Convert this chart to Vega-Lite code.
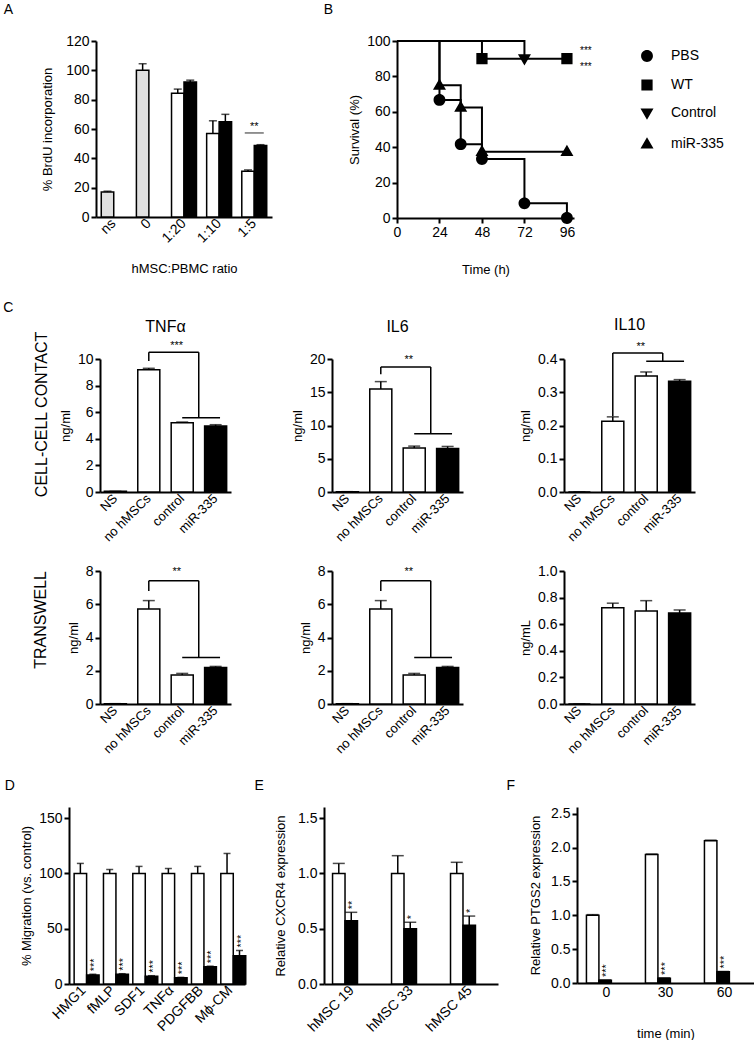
{
"$schema":"https://vega.github.io/schema/vega-lite/v6.json",
"padding":{"left":3,"top":3,"right":0,"bottom":0},
"background":"white",
"config":{
 "view":{"stroke":null},
 "font":"Liberation Sans",
 "axis":{"domainColor":"black","domainWidth":2,"tickColor":"black","tickWidth":2,"tickSize":5,"labelColor":"black","labelFontSize":14,"titleFontSize":13,"titleFontWeight":"normal","titleColor":"black","grid":false,"labelPadding":2,"labelFlush":false,"labelOverlap":false},
 "title":{"fontSize":14,"fontWeight":"normal","anchor":"start","frame":"bounds","color":"black"}
},
"spacing":25,
"resolve":{"scale":{"shape":"independent"},"legend":{"shape":"independent"}},
"vconcat":[
 {"bounds":"flush","spacing":0,
  "resolve":{"scale":{"shape":"independent"},"legend":{"shape":"independent"}},
  "hconcat":[
  {"width":27,"height":10,"data":{"values":[]},"mark":"rect","encoding":{}},
  {"bounds":"flush","spacing":125,
   "resolve":{"scale":{"shape":"independent"},"legend":{"shape":"independent"}},
   "hconcat":[
   {"title":{"text":"A","dx":-38,"offset":17},
    "width":176,"height":176,
    "data":{"values":[
     {"ratio":"ns","slot":"a","group":"none","value":17,"upper":17.6},
     {"ratio":"0","slot":"a","group":"none","value":100,"upper":104.5},
     {"ratio":"1:20","slot":"a","group":"control","value":84.4,"upper":87.2},
     {"ratio":"1:20","slot":"b","group":"miR-335","value":92,"upper":93.3},
     {"ratio":"1:10","slot":"a","group":"control","value":57,"upper":65.6},
     {"ratio":"1:10","slot":"b","group":"miR-335","value":65,"upper":70},
     {"ratio":"1:5","slot":"a","group":"control","value":31.2,"upper":32.1},
     {"ratio":"1:5","slot":"b","group":"miR-335","value":48.8,"upper":49.3}
    ]},
    "layer":[
     {"mark":{"type":"bar","stroke":"black","strokeWidth":1.5},
      "encoding":{
       "x":{"field":"ratio","type":"nominal","scale":{"domain":["ns","0","1:20","1:10","1:5"],"paddingInner":0.29,"paddingOuter":0.15},"axis":{"title":"hMSC:PBMC ratio","labelAngle":-45,"labelAlign":"right","labelBaseline":"middle","ticks":false,"labelPadding":4,"titlePadding":17,"labelOverlap":false}},
       "xOffset":{"field":"slot","type":"nominal","scale":{"domain":["a","b"]}},
       "y":{"field":"value","type":"quantitative","scale":{"domain":[0,120]},"axis":{"title":"% BrdU incorporation","values":[0,20,40,60,80,100,120],"tickCount":20,"format":"d","titlePadding":11,"labelOverlap":false}},
       "fill":{"condition":[{"test":"datum.group === 'none'","value":"#e0e0e0"},{"test":"datum.group === 'miR-335'","value":"black"}],"value":"white"}}},
     {"mark":{"type":"rule","color":"black","strokeWidth":1.5},
      "encoding":{"x":{"field":"ratio","type":"nominal"},"xOffset":{"field":"slot","type":"nominal"},"y":{"field":"value","type":"quantitative"},"y2":{"field":"upper"}}},
     {"mark":{"type":"tick","color":"black","thickness":1.5,"size":8},
      "encoding":{"x":{"field":"ratio","type":"nominal"},"xOffset":{"field":"slot","type":"nominal"},"y":{"field":"upper","type":"quantitative"}}},
     {"data":{"values":[{"ratio":"1:5","line":57.3,"label":61.5,"stars":"**"}]},
      "layer":[
       {"mark":{"type":"tick","color":"black","thickness":1.2,"size":19},"encoding":{"x":{"field":"ratio","type":"nominal"},"y":{"field":"line","type":"quantitative"}}},
       {"mark":{"type":"text","color":"black","fontSize":11,"baseline":"middle"},"encoding":{"x":{"field":"ratio","type":"nominal"},"y":{"field":"label","type":"quantitative"},"text":{"field":"stars"}}}
      ]}
    ]},
   {"title":{"text":"B","dx":-25,"offset":17},
    "width":177,"height":177,
    "layer":[
     {"data":{"values":[
       {"group":"PBS","time":0,"survival":100},{"group":"PBS","time":24,"survival":66.7},{"group":"PBS","time":36,"survival":41.7},{"group":"PBS","time":48,"survival":33.3},{"group":"PBS","time":72,"survival":8.3},{"group":"PBS","time":96,"survival":0},
       {"group":"WT","time":0,"survival":100},{"group":"WT","time":48,"survival":90},{"group":"WT","time":96,"survival":90},
       {"group":"Control","time":0,"survival":100},{"group":"Control","time":72,"survival":90},
       {"group":"miR-335","time":0,"survival":100},{"group":"miR-335","time":24,"survival":75},{"group":"miR-335","time":36,"survival":62.5},{"group":"miR-335","time":48,"survival":37.5},{"group":"miR-335","time":96,"survival":37.5}
      ]},
      "layer":[
       {"mark":{"type":"line","interpolate":"step-after","color":"black","strokeWidth":2},
        "encoding":{"x":{"field":"time","type":"quantitative","scale":{"domain":[0,96]},"axis":{"title":"Time (h)","values":[0,24,48,72,96],"tickCount":20,"format":"d","titlePadding":24,"labelOverlap":false}},
         "y":{"field":"survival","type":"quantitative","scale":{"domain":[0,100]},"axis":{"title":"Survival (%)","values":[0,20,40,60,80,100],"tickCount":20,"format":"d","titlePadding":5,"labelOverlap":false}},
         "detail":{"field":"group","type":"nominal"}}},
       {"transform":[{"filter":"datum.time > 0"}],
        "mark":{"type":"point","filled":true,"color":"black","size":140,"opacity":1},
        "encoding":{"x":{"field":"time","type":"quantitative"},"y":{"field":"survival","type":"quantitative"},
         "shape":{"field":"group","type":"nominal","scale":{"domain":["PBS","WT","Control","miR-335"],"range":["M-1,0A1,1,0,1,1,1,0A1,1,0,1,1,-1,0Z M-1.9,0H1.9","M-0.95,-0.95H0.95V0.95H-0.95Z M-1.9,0H1.9","M-1.1,-0.75H1.1L0,1.15Z M-1.9,0H1.9","M0,-1.15L1.1,0.75H-1.1Z M-1.9,0H1.9"]},
          "legend":{"title":null,"orient":"right","offset":58,"padding":8,"labelFontSize":14,"labelColor":"black","symbolSize":140,"symbolFillColor":"black","symbolStrokeColor":"black","symbolStrokeWidth":2,"rowPadding":9,"labelOffset":17,
           "encode":{"symbols":{"update":{"stroke":{"value":"black"},"strokeWidth":{"value":2},"fill":{"value":"black"}}}}}}}}
      ]},
     {"data":{"values":[{"time":96,"survival":94.4,"stars":"***"},{"time":96,"survival":85.3,"stars":"***"}]},
      "mark":{"type":"text","color":"black","fontSize":10,"dx":19,"baseline":"middle"},
      "encoding":{"x":{"field":"time","type":"quantitative"},"y":{"field":"survival","type":"quantitative"},"text":{"field":"stars"}}}
    ]}
  ]}
 ]},
 {"spacing":22,"vconcat":[
  {"title":{"text":"C","dx":-30,"offset":2},"spacing":20,"vconcat":[
   {"title":{"text":"CELL-CELL CONTACT","orient":"left","anchor":"middle","fontSize":16,"offset":9,"dx":16},
    "bounds":"flush","spacing":0,"hconcat":[
    {"width":31,"height":10,"data":{"values":[]},"mark":"rect","encoding":{}},
    {"bounds":"flush","spacing":101,"hconcat":[
     {"title":{"text":"TNFα","anchor":"middle","frame":"group","fontSize":16,"offset":5},
      "width":131,"height":133,
      "layer":[
       {"data":{"values":[
         {"cond":"NS","value":0.05,"upper":0.05},
         {"cond":"no hMSCs","value":9.2,"upper":9.3},
         {"cond":"control","value":5.21,"upper":5.26},
         {"cond":"miR-335","value":4.96,"upper":5.06}]},
        "layer":[
         {"mark":{"type":"bar","stroke":"black","strokeWidth":1.5},
          "encoding":{"x":{"field":"cond","type":"nominal","scale":{"domain":["NS","no hMSCs","control","miR-335"],"paddingInner":0.34,"paddingOuter":0.13},"axis":{"title":null,"labelAngle":-45,"labelAlign":"right","labelBaseline":"middle","ticks":false,"labelFontSize":13,"labelPadding":4,"labelOverlap":false}},
           "y":{"field":"value","type":"quantitative","scale":{"domain":[0,10]},"axis":{"title":"ng/ml","values":[0,2,4,6,8,10],"tickCount":20,"format":"d","titlePadding":5,"labelOverlap":false}},
           "fill":{"condition":{"test":"datum.cond === 'miR-335'","value":"black"},"value":"white"}}},
         {"mark":{"type":"rule","color":"black","strokeWidth":1.5},"encoding":{"x":{"field":"cond","type":"nominal"},"y":{"field":"value","type":"quantitative"},"y2":{"field":"upper"}}},
         {"mark":{"type":"tick","color":"black","thickness":1.5,"size":12},"encoding":{"x":{"field":"cond","type":"nominal"},"y":{"field":"upper","type":"quantitative"}}}
        ]},
       {"data":{"values":[{"left":"no hMSCs","right":"control","lo":"control","hi":"miR-335","ya":9.85,"ytop":10.5,"yb":5.59,"ystar":11.0,"stars":"***"}]},
        "layer":[
         {"mark":{"type":"rule","color":"black","strokeWidth":1.5},"encoding":{"x":{"field":"left","type":"nominal"},"y":{"field":"ya","type":"quantitative"},"y2":{"field":"ytop"}}},
         {"mark":{"type":"rule","color":"black","strokeWidth":1.5},"encoding":{"x":{"field":"left","type":"nominal"},"x2":{"field":"right","bandPosition":1.25},"y":{"field":"ytop","type":"quantitative"}}},
         {"mark":{"type":"rule","color":"black","strokeWidth":1.5},"encoding":{"x":{"field":"right","type":"nominal","bandPosition":1.25},"y":{"field":"yb","type":"quantitative"},"y2":{"field":"ytop"}}},
         {"mark":{"type":"rule","color":"black","strokeWidth":1.5},"encoding":{"x":{"field":"lo","type":"nominal","bandPosition":0.5},"x2":{"field":"hi","bandPosition":0.7},"y":{"field":"yb","type":"quantitative"}}},
         {"mark":{"type":"text","color":"black","fontSize":11,"baseline":"middle"},"encoding":{"x":{"field":"right","type":"nominal","bandPosition":0.25},"y":{"field":"ystar","type":"quantitative"},"text":{"field":"stars"}}}
        ]}
      ]},
     {"title":{"text":"IL6","anchor":"middle","frame":"group","fontSize":16,"offset":17},
      "width":131,"height":133,
      "layer":[
       {"data":{"values":[
         {"cond":"NS","value":0.05,"upper":0.05},
         {"cond":"no hMSCs","value":15.5,"upper":16.6},
         {"cond":"control","value":6.6,"upper":6.9},
         {"cond":"miR-335","value":6.55,"upper":6.85}]},
        "layer":[
         {"mark":{"type":"bar","stroke":"black","strokeWidth":1.5},
          "encoding":{"x":{"field":"cond","type":"nominal","scale":{"domain":["NS","no hMSCs","control","miR-335"],"paddingInner":0.34,"paddingOuter":0.13},"axis":{"title":null,"labelAngle":-45,"labelAlign":"right","labelBaseline":"middle","ticks":false,"labelFontSize":13,"labelPadding":4,"labelOverlap":false}},
           "y":{"field":"value","type":"quantitative","scale":{"domain":[0,20]},"axis":{"title":"ng/ml","values":[0,5,10,15,20],"tickCount":20,"format":"d","titlePadding":5,"labelOverlap":false}},
           "fill":{"condition":{"test":"datum.cond === 'miR-335'","value":"black"},"value":"white"}}},
         {"mark":{"type":"rule","color":"black","strokeWidth":1.5},"encoding":{"x":{"field":"cond","type":"nominal"},"y":{"field":"value","type":"quantitative"},"y2":{"field":"upper"}}},
         {"mark":{"type":"tick","color":"black","thickness":1.5,"size":12},"encoding":{"x":{"field":"cond","type":"nominal"},"y":{"field":"upper","type":"quantitative"}}}
        ]},
       {"data":{"values":[{"left":"no hMSCs","right":"control","lo":"control","hi":"miR-335","ya":17.7,"ytop":18.8,"yb":8.75,"ystar":19.8,"stars":"**"}]},
        "layer":[
         {"mark":{"type":"rule","color":"black","strokeWidth":1.5},"encoding":{"x":{"field":"left","type":"nominal"},"y":{"field":"ya","type":"quantitative"},"y2":{"field":"ytop"}}},
         {"mark":{"type":"rule","color":"black","strokeWidth":1.5},"encoding":{"x":{"field":"left","type":"nominal"},"x2":{"field":"right","bandPosition":1.25},"y":{"field":"ytop","type":"quantitative"}}},
         {"mark":{"type":"rule","color":"black","strokeWidth":1.5},"encoding":{"x":{"field":"right","type":"nominal","bandPosition":1.25},"y":{"field":"yb","type":"quantitative"},"y2":{"field":"ytop"}}},
         {"mark":{"type":"rule","color":"black","strokeWidth":1.5},"encoding":{"x":{"field":"lo","type":"nominal","bandPosition":0.5},"x2":{"field":"hi","bandPosition":0.7},"y":{"field":"yb","type":"quantitative"}}},
         {"mark":{"type":"text","color":"black","fontSize":11,"baseline":"middle"},"encoding":{"x":{"field":"right","type":"nominal","bandPosition":0.25},"y":{"field":"ystar","type":"quantitative"},"text":{"field":"stars"}}}
        ]}
      ]},
     {"title":{"text":"IL10","anchor":"middle","frame":"group","fontSize":16,"offset":8},
      "width":131,"height":133,
      "layer":[
       {"data":{"values":[
         {"cond":"NS","value":0,"upper":0},
         {"cond":"no hMSCs","value":0.213,"upper":0.226},
         {"cond":"control","value":0.349,"upper":0.361},
         {"cond":"miR-335","value":0.333,"upper":0.338}]},
        "layer":[
         {"mark":{"type":"bar","stroke":"black","strokeWidth":1.5},
          "encoding":{"x":{"field":"cond","type":"nominal","scale":{"domain":["NS","no hMSCs","control","miR-335"],"paddingInner":0.34,"paddingOuter":0.13},"axis":{"title":null,"labelAngle":-45,"labelAlign":"right","labelBaseline":"middle","ticks":false,"labelFontSize":13,"labelPadding":4,"labelOverlap":false}},
           "y":{"field":"value","type":"quantitative","scale":{"domain":[0,0.4]},"axis":{"title":"ng/ml","values":[0,0.1,0.2,0.3,0.4],"tickCount":20,"format":".1f","titlePadding":5,"labelOverlap":false}},
           "fill":{"condition":{"test":"datum.cond === 'miR-335'","value":"black"},"value":"white"}}},
         {"mark":{"type":"rule","color":"black","strokeWidth":1.5},"encoding":{"x":{"field":"cond","type":"nominal"},"y":{"field":"value","type":"quantitative"},"y2":{"field":"upper"}}},
         {"mark":{"type":"tick","color":"black","thickness":1.5,"size":12},"encoding":{"x":{"field":"cond","type":"nominal"},"y":{"field":"upper","type":"quantitative"}}}
        ]},
       {"data":{"values":[{"left":"no hMSCs","right":"control","lo":"control","hi":"miR-335","ya":0.228,"ytop":0.418,"yb":0.393,"ystar":0.436,"stars":"**"}]},
        "layer":[
         {"mark":{"type":"rule","color":"black","strokeWidth":1.5},"encoding":{"x":{"field":"left","type":"nominal"},"y":{"field":"ya","type":"quantitative"},"y2":{"field":"ytop"}}},
         {"mark":{"type":"rule","color":"black","strokeWidth":1.5},"encoding":{"x":{"field":"left","type":"nominal"},"x2":{"field":"right","bandPosition":1.25},"y":{"field":"ytop","type":"quantitative"}}},
         {"mark":{"type":"rule","color":"black","strokeWidth":1.5},"encoding":{"x":{"field":"right","type":"nominal","bandPosition":1.25},"y":{"field":"yb","type":"quantitative"},"y2":{"field":"ytop"}}},
         {"mark":{"type":"rule","color":"black","strokeWidth":1.5},"encoding":{"x":{"field":"lo","type":"nominal","bandPosition":0.5},"x2":{"field":"hi","bandPosition":0.7},"y":{"field":"yb","type":"quantitative"}}},
         {"mark":{"type":"text","color":"black","fontSize":11,"baseline":"middle"},"encoding":{"x":{"field":"right","type":"nominal","bandPosition":0.25},"y":{"field":"ystar","type":"quantitative"},"text":{"field":"stars"}}}
        ]}
      ]}
    ]}
   ]},
   {"title":{"text":"TRANSWELL","orient":"left","anchor":"middle","fontSize":16,"offset":18,"dx":40},
    "bounds":"flush","spacing":0,"hconcat":[
    {"width":31,"height":10,"data":{"values":[]},"mark":"rect","encoding":{}},
    {"bounds":"flush","spacing":101,"hconcat":[
     {"width":131,"height":133,
      "layer":[
       {"data":{"values":[
         {"cond":"NS","value":0.02,"upper":0.02},
         {"cond":"no hMSCs","value":5.72,"upper":6.22},
         {"cond":"control","value":1.75,"upper":1.84},
         {"cond":"miR-335","value":2.2,"upper":2.26}]},
        "layer":[
         {"mark":{"type":"bar","stroke":"black","strokeWidth":1.5},
          "encoding":{"x":{"field":"cond","type":"nominal","scale":{"domain":["NS","no hMSCs","control","miR-335"],"paddingInner":0.34,"paddingOuter":0.13},"axis":{"title":null,"labelAngle":-45,"labelAlign":"right","labelBaseline":"middle","ticks":false,"labelFontSize":13,"labelPadding":4,"labelOverlap":false}},
           "y":{"field":"value","type":"quantitative","scale":{"domain":[0,8]},"axis":{"title":"ng/ml","values":[0,2,4,6,8],"tickCount":20,"format":"d","titlePadding":5,"labelOverlap":false}},
           "fill":{"condition":{"test":"datum.cond === 'miR-335'","value":"black"},"value":"white"}}},
         {"mark":{"type":"rule","color":"black","strokeWidth":1.5},"encoding":{"x":{"field":"cond","type":"nominal"},"y":{"field":"value","type":"quantitative"},"y2":{"field":"upper"}}},
         {"mark":{"type":"tick","color":"black","thickness":1.5,"size":12},"encoding":{"x":{"field":"cond","type":"nominal"},"y":{"field":"upper","type":"quantitative"}}}
        ]},
       {"data":{"values":[{"left":"no hMSCs","right":"control","lo":"control","hi":"miR-335","ya":6.8,"ytop":7.42,"yb":2.8,"ystar":7.95,"stars":"**"}]},
        "layer":[
         {"mark":{"type":"rule","color":"black","strokeWidth":1.5},"encoding":{"x":{"field":"left","type":"nominal"},"y":{"field":"ya","type":"quantitative"},"y2":{"field":"ytop"}}},
         {"mark":{"type":"rule","color":"black","strokeWidth":1.5},"encoding":{"x":{"field":"left","type":"nominal"},"x2":{"field":"right","bandPosition":1.25},"y":{"field":"ytop","type":"quantitative"}}},
         {"mark":{"type":"rule","color":"black","strokeWidth":1.5},"encoding":{"x":{"field":"right","type":"nominal","bandPosition":1.25},"y":{"field":"yb","type":"quantitative"},"y2":{"field":"ytop"}}},
         {"mark":{"type":"rule","color":"black","strokeWidth":1.5},"encoding":{"x":{"field":"lo","type":"nominal","bandPosition":0.5},"x2":{"field":"hi","bandPosition":0.7},"y":{"field":"yb","type":"quantitative"}}},
         {"mark":{"type":"text","color":"black","fontSize":11,"baseline":"middle"},"encoding":{"x":{"field":"right","type":"nominal","bandPosition":0.25},"y":{"field":"ystar","type":"quantitative"},"text":{"field":"stars"}}}
        ]}
      ]},
     {"width":131,"height":133,
      "layer":[
       {"data":{"values":[
         {"cond":"NS","value":0.02,"upper":0.02},
         {"cond":"no hMSCs","value":5.72,"upper":6.22},
         {"cond":"control","value":1.75,"upper":1.84},
         {"cond":"miR-335","value":2.2,"upper":2.26}]},
        "layer":[
         {"mark":{"type":"bar","stroke":"black","strokeWidth":1.5},
          "encoding":{"x":{"field":"cond","type":"nominal","scale":{"domain":["NS","no hMSCs","control","miR-335"],"paddingInner":0.34,"paddingOuter":0.13},"axis":{"title":null,"labelAngle":-45,"labelAlign":"right","labelBaseline":"middle","ticks":false,"labelFontSize":13,"labelPadding":4,"labelOverlap":false}},
           "y":{"field":"value","type":"quantitative","scale":{"domain":[0,8]},"axis":{"title":"ng/ml","values":[0,2,4,6,8],"tickCount":20,"format":"d","titlePadding":5,"labelOverlap":false}},
           "fill":{"condition":{"test":"datum.cond === 'miR-335'","value":"black"},"value":"white"}}},
         {"mark":{"type":"rule","color":"black","strokeWidth":1.5},"encoding":{"x":{"field":"cond","type":"nominal"},"y":{"field":"value","type":"quantitative"},"y2":{"field":"upper"}}},
         {"mark":{"type":"tick","color":"black","thickness":1.5,"size":12},"encoding":{"x":{"field":"cond","type":"nominal"},"y":{"field":"upper","type":"quantitative"}}}
        ]},
       {"data":{"values":[{"left":"no hMSCs","right":"control","lo":"control","hi":"miR-335","ya":6.8,"ytop":7.42,"yb":2.8,"ystar":7.95,"stars":"**"}]},
        "layer":[
         {"mark":{"type":"rule","color":"black","strokeWidth":1.5},"encoding":{"x":{"field":"left","type":"nominal"},"y":{"field":"ya","type":"quantitative"},"y2":{"field":"ytop"}}},
         {"mark":{"type":"rule","color":"black","strokeWidth":1.5},"encoding":{"x":{"field":"left","type":"nominal"},"x2":{"field":"right","bandPosition":1.25},"y":{"field":"ytop","type":"quantitative"}}},
         {"mark":{"type":"rule","color":"black","strokeWidth":1.5},"encoding":{"x":{"field":"right","type":"nominal","bandPosition":1.25},"y":{"field":"yb","type":"quantitative"},"y2":{"field":"ytop"}}},
         {"mark":{"type":"rule","color":"black","strokeWidth":1.5},"encoding":{"x":{"field":"lo","type":"nominal","bandPosition":0.5},"x2":{"field":"hi","bandPosition":0.7},"y":{"field":"yb","type":"quantitative"}}},
         {"mark":{"type":"text","color":"black","fontSize":11,"baseline":"middle"},"encoding":{"x":{"field":"right","type":"nominal","bandPosition":0.25},"y":{"field":"ystar","type":"quantitative"},"text":{"field":"stars"}}}
        ]}
      ]},
     {"width":131,"height":133,
      "data":{"values":[
        {"cond":"NS","value":0,"upper":0},
        {"cond":"no hMSCs","value":0.723,"upper":0.758},
        {"cond":"control","value":0.70,"upper":0.777},
        {"cond":"miR-335","value":0.684,"upper":0.707}]},
      "layer":[
       {"mark":{"type":"bar","stroke":"black","strokeWidth":1.5},
        "encoding":{"x":{"field":"cond","type":"nominal","scale":{"domain":["NS","no hMSCs","control","miR-335"],"paddingInner":0.34,"paddingOuter":0.13},"axis":{"title":null,"labelAngle":-45,"labelAlign":"right","labelBaseline":"middle","ticks":false,"labelFontSize":13,"labelPadding":4,"labelOverlap":false}},
         "y":{"field":"value","type":"quantitative","scale":{"domain":[0,1]},"axis":{"title":"ng/mL","values":[0,0.2,0.4,0.6,0.8,1],"tickCount":20,"format":".1f","titlePadding":5,"labelOverlap":false}},
         "fill":{"condition":{"test":"datum.cond === 'miR-335'","value":"black"},"value":"white"}}},
       {"mark":{"type":"rule","color":"black","strokeWidth":1.5},"encoding":{"x":{"field":"cond","type":"nominal"},"y":{"field":"value","type":"quantitative"},"y2":{"field":"upper"}}},
       {"mark":{"type":"tick","color":"black","thickness":1.5,"size":12},"encoding":{"x":{"field":"cond","type":"nominal"},"y":{"field":"upper","type":"quantitative"}}}
      ]}
    ]}
   ]}
  ]},
  {"bounds":"flush","spacing":79,"hconcat":[
   {"title":{"text":"D","dx":-16,"offset":14},
    "width":176,"height":177,
    "data":{"values":[
     {"cat":"HMG1","slot":"a","value":100,"upper":109,"stars":""},
     {"cat":"HMG1","slot":"b","value":8.2,"upper":8.8,"stars":"***"},
     {"cat":"fMLP","slot":"a","value":100,"upper":103.5,"stars":""},
     {"cat":"fMLP","slot":"b","value":8.8,"upper":9.3,"stars":"***"},
     {"cat":"SDF1","slot":"a","value":100,"upper":106.3,"stars":""},
     {"cat":"SDF1","slot":"b","value":7.1,"upper":7.5,"stars":"***"},
     {"cat":"TNFα","slot":"a","value":100,"upper":104.4,"stars":""},
     {"cat":"TNFα","slot":"b","value":5.7,"upper":6,"stars":"***"},
     {"cat":"PDGFBB","slot":"a","value":100,"upper":106.3,"stars":""},
     {"cat":"PDGFBB","slot":"b","value":15.6,"upper":16.1,"stars":"***"},
     {"cat":"Mϕ-CM","slot":"a","value":100,"upper":118,"stars":""},
     {"cat":"Mϕ-CM","slot":"b","value":25.5,"upper":30.3,"stars":"***"}
    ]},
    "layer":[
     {"mark":{"type":"bar","stroke":"black","strokeWidth":1.5},
      "encoding":{"x":{"field":"cat","type":"nominal","scale":{"domain":["HMG1","fMLP","SDF1","TNFα","PDGFBB","Mϕ-CM"],"paddingInner":0.35,"paddingOuter":0.175},"axis":{"title":null,"labelAngle":-45,"labelAlign":"right","labelBaseline":"middle","ticks":false,"labelPadding":4,"labelOverlap":false}},
       "xOffset":{"field":"slot","type":"nominal","scale":{"domain":["a","b"]}},
       "y":{"field":"value","type":"quantitative","scale":{"domain":[0,150]},"axis":{"title":"% Migration (vs. control)","values":[0,50,100,150],"tickCount":20,"format":"d","titlePadding":5,"labelOverlap":false}},
       "fill":{"condition":{"test":"datum.slot === 'b'","value":"black"},"value":"white"}}},
     {"mark":{"type":"rule","color":"black","strokeWidth":1.5},"encoding":{"x":{"field":"cat","type":"nominal"},"xOffset":{"field":"slot","type":"nominal"},"y":{"field":"value","type":"quantitative"},"y2":{"field":"upper"}}},
     {"mark":{"type":"tick","color":"black","thickness":1.5,"size":7},"encoding":{"x":{"field":"cat","type":"nominal"},"xOffset":{"field":"slot","type":"nominal"},"y":{"field":"upper","type":"quantitative"}}},
     {"mark":{"type":"text","color":"black","fontSize":11,"angle":270,"align":"left","baseline":"middle","dx":3,"dy":2},"encoding":{"x":{"field":"cat","type":"nominal"},"xOffset":{"field":"slot","type":"nominal"},"y":{"field":"upper","type":"quantitative"},"text":{"field":"stars"}}}
    ]},
   {"title":{"text":"E","dx":-20,"offset":14},
    "width":174,"height":177,
    "data":{"values":[
     {"cat":"hMSC 19","slot":"a","value":1.0,"upper":1.09,"stars":""},
     {"cat":"hMSC 19","slot":"b","value":0.572,"upper":0.648,"stars":"**"},
     {"cat":"hMSC 33","slot":"a","value":1.0,"upper":1.16,"stars":""},
     {"cat":"hMSC 33","slot":"b","value":0.50,"upper":0.558,"stars":"*"},
     {"cat":"hMSC 45","slot":"a","value":1.0,"upper":1.10,"stars":""},
     {"cat":"hMSC 45","slot":"b","value":0.532,"upper":0.614,"stars":"*"}
    ]},
    "layer":[
     {"mark":{"type":"bar","stroke":"black","strokeWidth":1.5},
      "encoding":{"x":{"field":"cat","type":"nominal","scale":{"domain":["hMSC 19","hMSC 33","hMSC 45"],"paddingInner":0.34,"paddingOuter":0.145},"axis":{"title":null,"labelAngle":-45,"labelAlign":"right","labelBaseline":"middle","ticks":false,"labelPadding":4,"labelOverlap":false}},
       "xOffset":{"field":"slot","type":"nominal","scale":{"domain":["a","b"]}},
       "y":{"field":"value","type":"quantitative","scale":{"domain":[0,1.5]},"axis":{"title":"Relative CXCR4 expression","values":[0,0.5,1,1.5],"tickCount":20,"format":".1f","titlePadding":10,"labelOverlap":false}},
       "fill":{"condition":{"test":"datum.slot === 'b'","value":"black"},"value":"white"}}},
     {"mark":{"type":"rule","color":"black","strokeWidth":1.5},"encoding":{"x":{"field":"cat","type":"nominal"},"xOffset":{"field":"slot","type":"nominal"},"y":{"field":"value","type":"quantitative"},"y2":{"field":"upper"}}},
     {"mark":{"type":"tick","color":"black","thickness":1.5,"size":12},"encoding":{"x":{"field":"cat","type":"nominal"},"xOffset":{"field":"slot","type":"nominal"},"y":{"field":"upper","type":"quantitative"}}},
     {"mark":{"type":"text","color":"black","fontSize":11,"angle":270,"align":"left","baseline":"middle","dx":3,"dy":2},"encoding":{"x":{"field":"cat","type":"nominal"},"xOffset":{"field":"slot","type":"nominal"},"y":{"field":"upper","type":"quantitative"},"text":{"field":"stars"}}}
    ]},
   {"title":{"text":"F","dx":-23,"offset":14},
    "width":177,"height":176,
    "data":{"values":[
     {"time":"0","slot":"a","value":1.0,"upper":1.01,"stars":""},
     {"time":"0","slot":"b","value":0.04,"upper":0.045,"stars":"***"},
     {"time":"30","slot":"a","value":1.9,"upper":1.905,"stars":""},
     {"time":"30","slot":"b","value":0.07,"upper":0.075,"stars":"***"},
     {"time":"60","slot":"a","value":2.1,"upper":2.11,"stars":""},
     {"time":"60","slot":"b","value":0.165,"upper":0.17,"stars":"***"}
    ]},
    "layer":[
     {"mark":{"type":"bar","stroke":"black","strokeWidth":1.5},
      "encoding":{"x":{"field":"time","type":"nominal","scale":{"domain":["0","30","60"],"paddingInner":0.32,"paddingOuter":0.16},"axis":{"title":"time (min)","labelAngle":0,"ticks":false,"labelPadding":2,"titlePadding":28,"labelOverlap":false}},
       "xOffset":{"field":"slot","type":"nominal","scale":{"domain":["a","b"]}},
       "y":{"field":"value","type":"quantitative","scale":{"domain":[0,2.5]},"axis":{"title":"Relative PTGS2 expression","values":[0,0.5,1,1.5,2,2.5],"tickCount":20,"format":".1f","titlePadding":8,"labelOverlap":false}},
       "fill":{"condition":{"test":"datum.slot === 'b'","value":"black"},"value":"white"}}},
     {"mark":{"type":"rule","color":"black","strokeWidth":1.5},"encoding":{"x":{"field":"time","type":"nominal"},"xOffset":{"field":"slot","type":"nominal"},"y":{"field":"value","type":"quantitative"},"y2":{"field":"upper"}}},
     {"mark":{"type":"tick","color":"black","thickness":1.5,"size":12},"encoding":{"x":{"field":"time","type":"nominal"},"xOffset":{"field":"slot","type":"nominal"},"y":{"field":"upper","type":"quantitative"}}},
     {"mark":{"type":"text","color":"black","fontSize":11,"angle":270,"align":"left","baseline":"middle","dx":3,"dy":2},"encoding":{"x":{"field":"time","type":"nominal"},"xOffset":{"field":"slot","type":"nominal"},"y":{"field":"upper","type":"quantitative"},"text":{"field":"stars"}}}
    ]}
  ]}
 ]}
]
}
